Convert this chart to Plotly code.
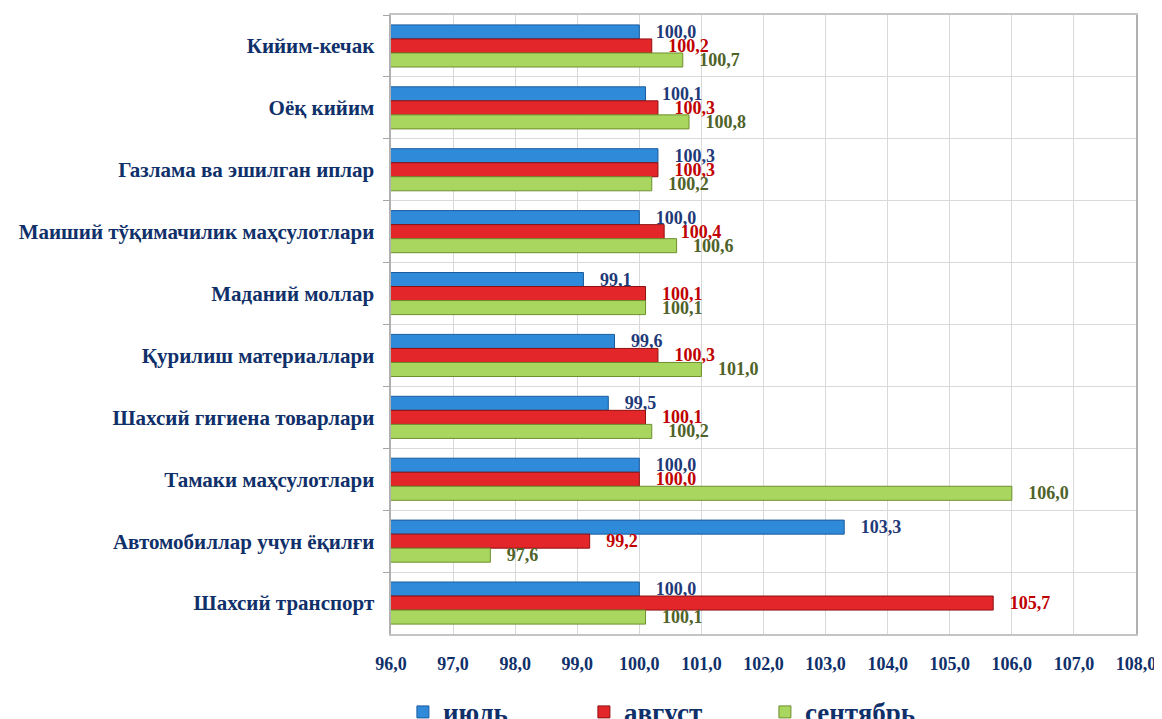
import plotly.graph_objects as go

categories = [
    "Кийим-кечак",
    "Оёқ кийим",
    "Газлама ва эшилган иплар",
    "Маиший тўқимачилик маҳсулотлари",
    "Маданий моллар",
    "Қурилиш материаллари",
    "Шахсий гигиена товарлари",
    "Тамаки маҳсулотлари",
    "Автомобиллар учун ёқилғи",
    "Шахсий транспорт",
]
july = [100.0, 100.1, 100.3, 100.0, 99.1, 99.6, 99.5, 100.0, 103.3, 100.0]
august = [100.2, 100.3, 100.3, 100.4, 100.1, 100.3, 100.1, 100.0, 99.2, 105.7]
september = [100.7, 100.8, 100.2, 100.6, 100.1, 101.0, 100.2, 106.0, 97.6, 100.1]
series_names = ["июль", "август", "сентябрь"]
tick_values = [96, 97, 98, 99, 100, 101, 102, 103, 104, 105, 106, 107, 108]

font_family = "Liberation Serif, Times New Roman, serif"
navy = "#10306A"

styles = [
    dict(fill="#2F8BDA", line="#1B5C9E", text="#1F3A78"),
    dict(fill="#E3262A", line="#8E1010", text="#C00000"),
    dict(fill="#A9D65E", line="#6E8F2E", text="#4F6228"),
]

fig = go.Figure()
for name, vals, st in zip(series_names, [july, august, september], styles):
    fig.add_trace(go.Bar(
        y=categories,
        x=vals,
        base=0,
        name=name,
        orientation="h",
        marker=dict(color=st["fill"], line=dict(color=st["line"], width=1)),
        texttemplate="\u00a0\u00a0\u00a0%{x:.1f}",
        textposition="outside",
        constraintext="none",
        cliponaxis=False,
        textfont=dict(family=font_family, size=18, color=st["text"], weight="bold"),
    ))

fig.update_layout(
    width=1154,
    height=711,
    barmode="group",
    bargap=0.32,
    bargroupgap=0,
    separators=", ",
    plot_bgcolor="white",
    paper_bgcolor="white",
    margin=dict(l=383, r=26, t=7, b=85, autoexpand=False),
    font=dict(family=font_family, color=navy),
    showlegend=True,
    legend=dict(
        orientation="h",
        x=0.016, xanchor="left",
        y=-0.087, yanchor="top",
        font=dict(family=font_family, size=27, color=navy, weight="bold"),
        itemwidth=30,
        entrywidthmode="pixels",
        entrywidth=136,
    ),
    xaxis=dict(
        range=[96, 108],
        tickvals=tick_values,
        tickformat=".1f",
        showgrid=True,
        gridcolor="#D9D9D9",
        gridwidth=1,
        showline=True,
        mirror=True,
        linecolor="#C4C4C4",
        linewidth=2,
        ticks="",
        ticklabelstandoff=12,
        automargin=False,
        tickfont=dict(family=font_family, size=18, color=navy, weight="bold"),
        zeroline=False,
    ),
    yaxis=dict(
        autorange="reversed",
        type="category",
        tickson="boundaries",
        ticks="outside",
        ticklen=6,
        tickcolor="#A6A6A6",
        showgrid=True,
        gridcolor="#D9D9D9",
        showline=True,
        mirror=True,
        linecolor="#B0B0B0",
        linewidth=2,
        automargin=False,
        tickfont=dict(family=font_family, size=21, color=navy, weight="bold"),
        ticksuffix="  ",
    ),
)

fig.write_html("out.html")
